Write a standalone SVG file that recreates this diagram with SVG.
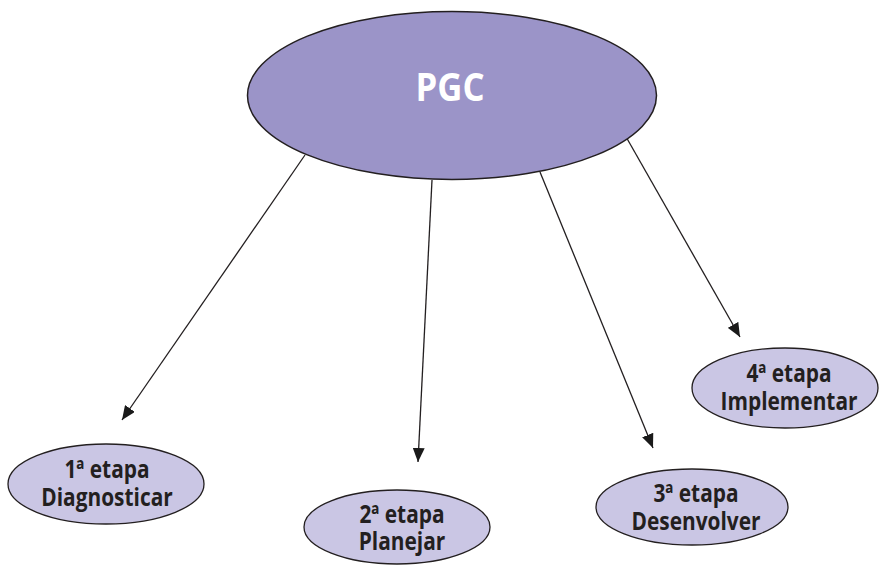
<svg xmlns="http://www.w3.org/2000/svg" width="879" height="565" viewBox="0 0 879 565">
<defs>
<marker id="ah" viewBox="0 0 14 12" refX="14" refY="6" markerWidth="14" markerHeight="12" markerUnits="userSpaceOnUse" orient="auto">
<path d="M0,0 L14,6 L0,12 Z" fill="#1a1a1a"/>
</marker>
<style>
.main{fill:#9b94c8;stroke:#231f20;stroke-width:1.5}
.step{fill:#cac6e4;stroke:#231f20;stroke-width:1.3}
.t{font-family:"Open Sans","Noto Sans",sans-serif;font-weight:bold;font-size:25px;fill:#231f20;text-anchor:middle}
.big{font-family:"Open Sans","Noto Sans",sans-serif;font-weight:bold;font-size:39px;fill:#ffffff;text-anchor:middle}
.c{stroke:#231f20;stroke-width:1.3;fill:none;marker-end:url(#ah)}
</style>
</defs>
<rect width="879" height="565" fill="#ffffff"/>
<g id="connectors">
<line class="c" x1="305" y1="155" x2="122" y2="420"/>
<line class="c" x1="432" y1="180" x2="418" y2="462"/>
<line class="c" x1="540" y1="172" x2="653" y2="448"/>
<line class="c" x1="625" y1="135" x2="740" y2="337"/>
</g>
<g id="pgc">
<ellipse class="main" cx="452" cy="95.5" rx="204.5" ry="84"/>
<text class="big" transform="translate(450,101) scale(0.89,1)">PGC</text>
</g>
<g id="etapa1">
<ellipse class="step" cx="106" cy="484" rx="98" ry="40"/>
<text class="t" transform="translate(107,478) scale(0.835,1)">1ª etapa</text>
<text class="t" transform="translate(107,506) scale(0.835,1)">Diagnosticar</text>
</g>
<g id="etapa2">
<ellipse class="step" cx="397" cy="527" rx="93" ry="37"/>
<text class="t" transform="translate(402,523) scale(0.835,1)">2ª etapa</text>
<text class="t" transform="translate(402,550) scale(0.835,1)">Planejar</text>
</g>
<g id="etapa3">
<ellipse class="step" cx="692" cy="507" rx="96" ry="38"/>
<text class="t" transform="translate(696,502) scale(0.835,1)">3ª etapa</text>
<text class="t" transform="translate(696,530) scale(0.835,1)">Desenvolver</text>
</g>
<g id="etapa4">
<ellipse class="step" cx="785" cy="388" rx="93" ry="40"/>
<text class="t" transform="translate(789,382) scale(0.835,1)">4ª etapa</text>
<text class="t" transform="translate(789,410) scale(0.835,1)">Implementar</text>
</g>
</svg>
